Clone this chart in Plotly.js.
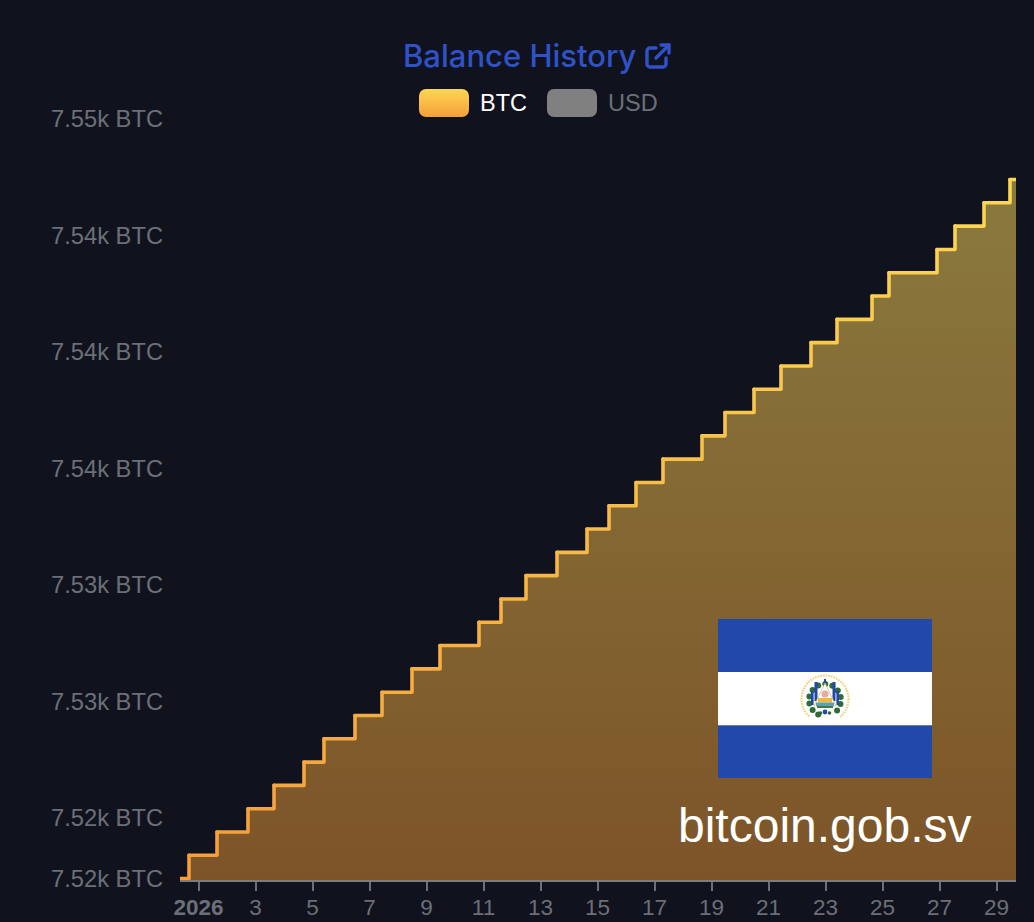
<!DOCTYPE html>
<html>
<head>
<meta charset="utf-8">
<script src="https://cdn.plot.ly/plotly-3.0.1.min.js"></script>
<style>
html,body{margin:0;padding:0;background:#10131d;overflow:hidden}
#chart{width:1034px;height:922px}
.js-line{stroke-linejoin:round;stroke-linecap:round}
</style>
</head>
<body>
<div id="chart"></div>
<script>
const stepTimes = [
 '2025-12-31 08:25','2025-12-31 16:00','2026-01-01 15:35','2026-01-02 17:40','2026-01-03 15:35',
 '2026-01-04 16:50','2026-01-05 09:40','2026-01-06 11:47','2026-01-07 10:32','2026-01-08 11:47',
 '2026-01-09 11:22','2026-01-10 20:12','2026-01-11 14:44','2026-01-12 11:47','2026-01-13 13:54',
 '2026-01-14 15:10','2026-01-15 09:42','2026-01-16 08:25','2026-01-17 07:09','2026-01-18 16:00',
 '2026-01-19 11:22','2026-01-20 11:47','2026-01-21 10:32','2026-01-22 11:47','2026-01-23 09:42',
 '2026-01-24 15:10','2026-01-25 05:28','2026-01-26 21:53','2026-01-27 13:03','2026-01-28 13:28',
 '2026-01-29 11:22','2026-01-29 16:25'];
const balances = [
 7517.39,7518.39,7519.39,7520.39,7521.39,7522.39,7523.39,7524.39,7525.39,7526.39,
 7527.39,7528.39,7529.39,7530.39,7531.39,7532.39,7533.39,7534.39,7535.39,7536.39,
 7537.39,7538.39,7539.39,7540.39,7541.39,7542.39,7543.39,7544.39,7545.39,7546.39,
 7547.39,7547.39];
const xTickVals = ['2026-01-01','2026-01-03','2026-01-05','2026-01-07','2026-01-09','2026-01-11','2026-01-13','2026-01-15','2026-01-17','2026-01-19','2026-01-21','2026-01-23','2026-01-25','2026-01-27','2026-01-29'];
const xTickText = ['<b>2026</b>','3','5','7','9','11','13','15','17','19','21','23','25','27','29'];
const yTickVals = [7517.39,7520,7525,7530,7535,7540,7545,7550];
const yTickText = ['7.52k BTC','7.52k BTC','7.53k BTC','7.53k BTC','7.54k BTC','7.54k BTC','7.54k BTC','7.55k BTC'];
const titleText = 'Balance History';
const siteText = 'bitcoin.gob.sv';

const L=180,R=1016,T=118,B=880,W=1034,H=922;
const px=x=>(x-L)/(R-L), py=y=>(B-y)/(B-T);
const uri=s=>'data:image/svg+xml;charset=utf-8,'+encodeURIComponent(s);
const GREY='#6c6f78', BG='#10131d';

function mix(a,b,t){return 'rgb('+a.map((v,i)=>Math.round(v+(b[i]-v)*t)).join(',')+')';}
const lowC=[245,158,58], highC=[253,216,83];
const traces=[{
  x:stepTimes,y:balances,type:'scatter',mode:'none',
  line:{shape:'hv'},fill:'tozeroy',
  fillgradient:{type:'vertical',start:balances[0],stop:balances[balances.length-1],
    colorscale:[[0,'#7d5428'],[1,'#8a7a3e']]},
  hoverinfo:'skip',showlegend:false
}];
for(let i=0;i<balances.length-1;i++){
  traces.push({
    x:[stepTimes[i],stepTimes[i+1]],
    y:[balances[i],balances[i+1]],
    type:'scatter',mode:'lines',
    line:{shape:'hv',width:3.6,color:mix(lowC,highC,i/(balances.length-2))},
    hoverinfo:'skip',showlegend:false
  });
}

const swatchBTC=uri('<svg xmlns="http://www.w3.org/2000/svg" width="50" height="28"><defs><linearGradient id="g" x1="0" y1="0" x2="0" y2="1"><stop offset="0" stop-color="#fdd853"/><stop offset="1" stop-color="#f59e3a"/></linearGradient></defs><rect width="50" height="28" rx="7" fill="url(#g)"/></svg>');
const swatchUSD=uri('<svg xmlns="http://www.w3.org/2000/svg" width="50" height="28"><rect width="50" height="28" rx="7" fill="#808080"/></svg>');
const linkIcon=uri('<svg xmlns="http://www.w3.org/2000/svg" width="26" height="26" viewBox="0 0 26 26" fill="none" stroke="#2f52c9" stroke-width="3.4" stroke-linecap="round" stroke-linejoin="round"><path d="M11 5H5a3 3 0 0 0-3 3v13a3 3 0 0 0 3 3h13a3 3 0 0 0 3-3v-6"/><path d="M16 2h8v8"/><path d="M24 2 11 15"/></svg>');

let wreath='';
for(let a=25;a<=335;a+=26){
  const r=a*Math.PI/180, cx=107+16*Math.sin(r+Math.PI), cy=81-16*Math.cos(r+Math.PI);
  wreath+=`<circle cx="${cx.toFixed(1)}" cy="${cy.toFixed(1)}" r="3" fill="#2f6b38"/>`;
}
const flag=uri(`<svg xmlns="http://www.w3.org/2000/svg" width="214" height="159" viewBox="0 0 214 159">
<rect width="214" height="53" fill="#2149ac"/><rect y="53" width="214" height="53.5" fill="#ffffff"/><rect y="106.5" width="214" height="52.5" fill="#2149ac"/>
<circle cx="107" cy="80" r="23.5" fill="none" stroke="#ecd27f" stroke-width="2.2" stroke-dasharray="1.6 1.1"/>
<path d="M92 98 A23.5 23.5 0 0 0 122 98" fill="none" stroke="#fff" stroke-width="3.4"/>
${wreath}
<rect x="96.5" y="63" width="3" height="19" fill="#2249a8"/><rect x="114.5" y="63" width="3" height="19" fill="#2249a8"/>
<rect x="93" y="72" width="2.6" height="14" fill="#2249a8"/><rect x="118.4" y="72" width="2.6" height="14" fill="#2249a8"/>
<rect x="106" y="60" width="2" height="8" fill="#2249a8"/>
<path d="M107 64 118 87H96Z" fill="#fff" stroke="#c9b765" stroke-width=".7"/>
<circle cx="107" cy="75" r="3.6" fill="#e7a9a0"/>
<rect x="100" y="79" width="14" height="4.5" fill="#e9bb3a"/>
<rect x="98" y="83.5" width="18" height="3.5" fill="#5f9fae"/>
<rect x="99" y="87" width="16" height="2" fill="#3f7a4a"/>
<circle cx="107" cy="93" r="2.4" fill="#2249a8"/><circle cx="102.5" cy="94" r="1.8" fill="#2f6b38"/><circle cx="111.5" cy="94" r="1.8" fill="#2f6b38"/>
</svg>`);

const pxImg=(src,x0,y0,w,h)=>({source:src,xref:'paper',yref:'paper',x:px(x0),y:py(y0),sizex:w/(R-L),sizey:h/(B-T),sizing:'stretch',xanchor:'left',yanchor:'top',layer:'above'});
const note=(text,x,y,anchor,size,color,family,weight)=>({text,x:px(x),y:py(y),xref:'paper',yref:'paper',xanchor:anchor,yanchor:'middle',showarrow:false,font:{size,color,family,weight:weight||400},borderpad:0});

const sans='"Liberation Sans", Arial, sans-serif';
const layout={
  width:W,height:H,
  margin:{l:L,r:W-R,t:T,b:H-B,pad:0},
  paper_bgcolor:BG,plot_bgcolor:BG,
  hovermode:false,showlegend:false,
  xaxis:{type:'date',range:[stepTimes[0],stepTimes[stepTimes.length-1]],
    tickmode:'array',tickvals:xTickVals,ticktext:xTickText,
    ticks:'outside',ticklen:9,tickwidth:2,tickcolor:GREY,
    showline:true,linecolor:'#7a7d84',linewidth:2,showgrid:false,zeroline:false,
    tickfont:{size:22.5,color:GREY,family:sans},tickangle:0,ticklabelstandoff:-3},
  yaxis:{range:[7517.33,7550.03],tickmode:'array',tickvals:yTickVals,ticktext:yTickText,
    ticks:'',showline:false,showgrid:false,zeroline:false,
    tickfont:{size:23.7,color:GREY,family:sans},ticklabelstandoff:16},
  images:[
    pxImg(swatchBTC,419,89,50,28),
    pxImg(swatchUSD,547,89,50,28),
    pxImg(linkIcon,645,43,26,26),
    pxImg(flag,718,619,214,159)
  ],
  annotations:[
    note(titleText,402,55.5,'left',31,'#2f52c9','Inter, sans-serif',500),
    note('BTC',478.5,103,'left',23.5,'#ffffff',sans),
    note('USD',606.5,103,'left',23.5,GREY,sans),
    note(siteText,825,825,'center',48,'#ffffff',sans)
  ]
};
Plotly.newPlot('chart',traces,layout,{displayModeBar:false,staticPlot:true});
</script>
</body>
</html>
